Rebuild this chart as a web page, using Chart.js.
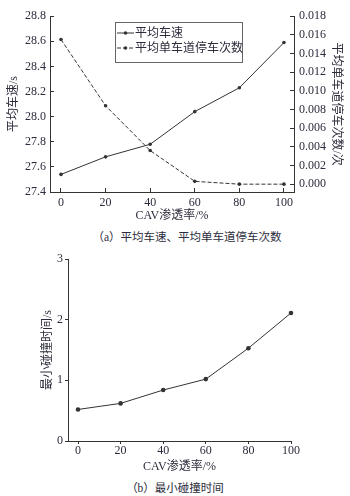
<!DOCTYPE html>
<html>
<head>
<meta charset="utf-8">
<script src="https://cdn.jsdelivr.net/npm/chart.js@4.4.0/dist/chart.umd.min.js"></script>
<style>
  body { margin: 0; background: #fff; width: 350px; height: 496px; position: relative; overflow: hidden; }
  canvas { position: absolute; left: 0; }
  .cap { position: absolute; width: 350px; text-align: center; line-height: 16px;
         font: 11.5px 'Liberation Serif', 'Noto Sans CJK SC', serif; color: #2c2c3c; }
</style>
</head>
<body>
<canvas id="chartA" width="350" height="226" style="top:0"></canvas>
<div class="cap" style="top:228px;left:12px">（a）平均车速、平均单车道停车次数</div>
<canvas id="chartB" width="350" height="236" style="top:240px"></canvas>
<div class="cap" style="top:479px;left:0">（b）最小碰撞时间</div>
<script>
// 数据
const penetration = [0, 20, 40, 60, 80, 100];
const avgSpeed = [27.54, 27.68, 27.78, 28.04, 28.23, 28.59];
const avgStops = [0.0155, 0.0084, 0.0036, 0.0003, 0.0000, 0.0000];
const minTTC = [0.52, 0.62, 0.84, 1.02, 1.53, 2.11];

const speedTicks = [27.4, 27.6, 27.8, 28.0, 28.2, 28.4, 28.6, 28.8];
const stopTicks = [0, 0.002, 0.004, 0.006, 0.008, 0.010, 0.012, 0.014, 0.016, 0.018];
const ttcTicks = [0, 1, 2, 3];

const ink = '#333';
const txt = '#2c2c3c';
const serif = "'Liberation Serif', 'Noto Sans CJK SC', serif";

Chart.defaults.font.family = serif;
Chart.defaults.font.size = 12;
Chart.defaults.color = txt;

const pts = (ys) => penetration.map((x, i) => ({ x: x, y: ys[i] }));
const fixTicks = (arr) => (s) => { s.ticks = arr.map(v => ({ value: v })); };
const fixWidth = (w) => (s) => { s.width = w; };

// 图例框（画在绘图区内）
const boxLegend = {
  id: 'boxLegend',
  afterDraw(chart, args, o) {
    const ctx = chart.ctx;
    ctx.save();
    ctx.strokeStyle = '#666';
    ctx.lineWidth = 1;
    ctx.strokeRect(o.x + 0.5, o.y + 0.5, o.w, o.h);
    chart.data.datasets.forEach((ds, i) => {
      const y = o.y + o.rowTop + i * o.rowGap;
      ctx.strokeStyle = ds.borderColor;
      ctx.lineWidth = ds.borderWidth;
      ctx.setLineDash(ds.borderDash || []);
      ctx.beginPath();
      ctx.moveTo(o.x + 2, y);
      ctx.lineTo(o.x + 19, y);
      ctx.stroke();
      ctx.setLineDash([]);
      ctx.fillStyle = ds.pointBackgroundColor;
      ctx.beginPath();
      ctx.arc(o.x + 10.5, y, ds.pointRadius, 0, Math.PI * 2);
      ctx.fill();
      ctx.fillStyle = txt;
      ctx.font = '12px ' + serif;
      ctx.textBaseline = 'middle';
      ctx.fillText(ds.label, o.x + 20, y + 0.5);
    });
    ctx.restore();
  }
};

const lineStyle = { borderColor: ink, borderWidth: 1, pointBackgroundColor: ink, pointBorderWidth: 0, tension: 0, clip: false };
const axisGrid = (tl) => ({ drawOnChartArea: false, tickLength: tl, color: ink });
const axisBorder = { color: ink, width: 1 };

// (a) 平均车速、平均单车道停车次数
new Chart(document.getElementById('chartA'), {
  type: 'line',
  data: {
    datasets: [
      Object.assign({ label: '平均车速', data: pts(avgSpeed), yAxisID: 'ySpeed', pointRadius: 1.8 }, lineStyle),
      Object.assign({ label: '平均单车道停车次数', data: pts(avgStops), yAxisID: 'yStops', pointRadius: 1.8, borderDash: [4, 2] }, lineStyle)
    ]
  },
  options: {
    responsive: false,
    animation: false,
    layout: { padding: { top: 13, left: 0, right: 0, bottom: 0 } },
    plugins: {
      legend: { display: false },
      tooltip: { enabled: false },
      boxLegend: { x: 115, y: 22, w: 127, h: 40, rowTop: 11, rowGap: 15 }
    },
    scales: {
      x: {
        type: 'linear', min: -4.93, max: 104.5,
        afterBuildTicks: fixTicks(penetration),
        afterFit: (s) => { s.height = 34; },
        grid: axisGrid(-4), border: axisBorder,
        ticks: { padding: 8 },
        title: { display: true, text: 'CAV渗透率/%', padding: { top: 0, bottom: 3 } }
      },
      ySpeed: {
        position: 'left', min: 27.4, max: 28.8,
        afterBuildTicks: fixTicks(speedTicks),
        afterFit: fixWidth(50),
        grid: axisGrid(-4), border: axisBorder,
        ticks: { padding: 8, callback: v => v.toFixed(1) },
        title: { display: true, text: '平均车速/s', padding: { top: 7 } }
      },
      yStops: {
        position: 'right', min: -0.00084, max: 0.018,
        afterBuildTicks: fixTicks(stopTicks),
        afterFit: fixWidth(56),
        grid: axisGrid(-4), border: axisBorder,
        ticks: { padding: 9, callback: v => v.toFixed(3) },
        title: { display: true, text: '平均单车道停车次数/次', padding: { top: 7 } }
      }
    }
  },
  plugins: [boxLegend]
});

// (b) 最小碰撞时间
new Chart(document.getElementById('chartB'), {
  type: 'line',
  data: {
    datasets: [
      Object.assign({ label: '最小碰撞时间', data: pts(minTTC), pointRadius: 2.3 }, lineStyle)
    ]
  },
  options: {
    responsive: false,
    animation: false,
    layout: { padding: { top: 19, right: 59, left: 0, bottom: 0 } },
    plugins: { legend: { display: false }, tooltip: { enabled: false } },
    scales: {
      x: {
        type: 'linear', min: -4.7, max: 100,
        afterBuildTicks: fixTicks(penetration),
        afterFit: (s) => { s.height = 35; },
        grid: axisGrid(3), border: axisBorder,
        ticks: { padding: 0 },
        title: { display: true, text: 'CAV渗透率/%', padding: { top: 0, bottom: 2 } }
      },
      y: {
        min: 0, max: 3,
        afterBuildTicks: fixTicks(ttcTicks),
        afterFit: fixWidth(68),
        grid: axisGrid(3), border: axisBorder,
        ticks: { padding: 2 },
        title: { display: true, text: '最小碰撞时间/s', padding: { top: 41 } }
      }
    }
  }
});
</script>
</body>
</html>
